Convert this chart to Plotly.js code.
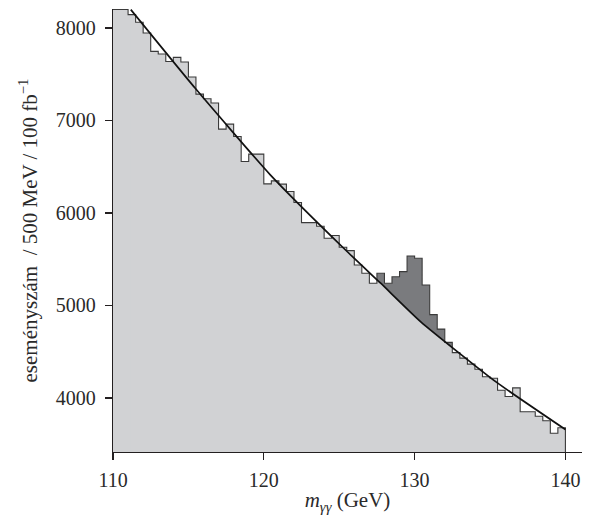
<!DOCTYPE html>
<html>
<head>
<meta charset="utf-8">
<script src="https://cdn.plot.ly/plotly-3.0.1.min.js"></script>
<style>
html,body{margin:0;padding:0;background:#fff;}
#chart{width:589px;height:516px;}
</style>
</head>
<body>
<div id="chart"></div>
<script>
// Histogram bin edges (GeV), 0.5 GeV bins
const binEdges = [110,110.5,111,111.5,112,112.5,113,113.5,114,114.5,
  115,115.5,116,116.5,117,117.5,118,118.5,119,119.5,
  120,120.5,121,121.5,122,122.5,123,123.5,124,124.5,
  125,125.5,126,126.5,127,127.5,128,128.5,129,129.5,
  130,130.5,131,131.5,132,132.5,133,133.5,134,134.5,
  135,135.5,136,136.5,137,137.5,138,138.5,139,139.5,140];

// Events per bin
const counts = [8200,8200,8144,8061,7946,7747,7718,7638,7682,7632,
  7469,7285,7234,7188,6906,6960,6826,6556,6636,6636,
  6314,6347,6311,6231,6112,5895,5895,5856,5726,5756,
  5629,5592,5437,5347,5239,5347,5239,5310,5365,5534,
  5510,5220,4900,4744,4600,4490,4430,4365,4310,4228,
  4213,4082,4015,4108,3851,3851,3802,3753,3618,3677];

// Signal window (bins shaded dark where they exceed the background)
const signalFirstBin = 35, signalLastBin = 48;

// Background fit curve (read points)
const fitX = [111.18,115.44,120.43,125.42,127.75,130.41,135.40,140.0];
const fitY = [8198,7350,6412,5599,5240,4823,4173,3658];

const yTickVals = [4000,5000,6000,7000,8000];
const xTickVals = [110,120,130,140];
const yRange = [3415,8205];
const xRange = [110,141.1];

const light = '#d1d2d4', dark = '#7a7b7e';
const stepX = binEdges.slice();
const stepY = counts.concat([counts[counts.length-1]]);

const sigX = binEdges.slice(signalFirstBin, signalLastBin+2);
const sigY = counts.slice(signalFirstBin, signalLastBin+1);
sigY.push(sigY[sigY.length-1]);

const topY = yRange[1] + 1000;

const traces = [
  {x:stepX, y:stepY, mode:'lines', line:{shape:'hv', width:0, color:light}, fill:'tozeroy', fillcolor:light, hoverinfo:'skip'},
  {x:sigX, y:sigY, mode:'lines', line:{shape:'hv', width:0, color:dark}, fill:'tozeroy', fillcolor:dark, hoverinfo:'skip'},
  {x:fitX, y:fitY, mode:'lines', line:{shape:'spline', smoothing:0.5, width:0, color:light}, fill:'tozeroy', fillcolor:light, hoverinfo:'skip'},
  {x:[binEdges[0], binEdges[binEdges.length-1]], y:[topY, topY], mode:'lines', line:{width:0, color:'#fff'}, hoverinfo:'skip'},
  {x:stepX, y:stepY, mode:'lines', line:{shape:'hv', width:0, color:'#fff'}, fill:'tonexty', fillcolor:'#ffffff', hoverinfo:'skip'},
  {x:stepX.concat([binEdges[binEdges.length-1]]), y:stepY.concat([yRange[0]]), mode:'lines', line:{shape:'hv', width:1.1, color:'#3a3a3a'}, hoverinfo:'skip'},
  {x:fitX, y:fitY, mode:'lines', line:{shape:'spline', smoothing:0.5, width:1.7, color:'#111'}, hoverinfo:'skip'}
];

const font = {family:'"Liberation Serif", "DejaVu Serif", serif', size:20, color:'#2a2a2a'};
const titleFont = {family:'"Liberation Serif", "DejaVu Serif", serif', size:21, color:'#2a2a2a'};

const layout = {
  width:589, height:516,
  margin:{l:113, r:7, t:9, b:64, pad:0},
  paper_bgcolor:'#fff', plot_bgcolor:'#fff',
  showlegend:false,
  font:font,
  xaxis:{range:xRange, tickvals:xTickVals, ticks:'outside', ticklen:7, tickwidth:1.2, tickcolor:'#231f20',
    showline:true, linecolor:'#231f20', linewidth:1.3, showgrid:false, zeroline:false,
    tickfont:font, ticklabelstandoff:3,
    title:{text:'<i>m</i><sub><i>γγ</i></sub> (GeV)', font:titleFont, standoff:2}},
  yaxis:{range:yRange, tickvals:yTickVals, ticks:'outside', ticklen:7, tickwidth:1.2, tickcolor:'#231f20',
    showline:true, linecolor:'#231f20', linewidth:1.3, showgrid:false, zeroline:false,
    tickfont:font, ticklabelstandoff:5,
    title:{text:'eseményszám  / 500 MeV / 100 fb<sup>−1</sup>', font:titleFont, standoff:12}}
};

Plotly.newPlot('chart', traces, layout, {staticPlot:true, displayModeBar:false});
</script>
</body>
</html>
